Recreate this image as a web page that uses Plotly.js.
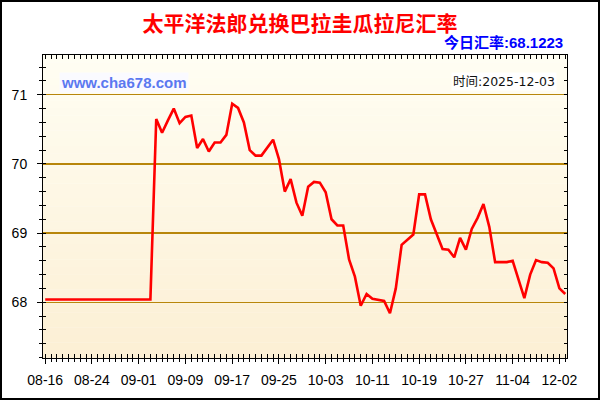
<!DOCTYPE html>
<html>
<head>
<meta charset="utf-8">
<script src="https://cdn.plot.ly/plotly-3.0.1.min.js"></script>
<style>
  html, body { margin: 0; padding: 0; background: #fff; }
  #wrap { position: relative; width: 600px; height: 400px; }
  #chart { width: 600px; height: 400px; }
  #frame { position: absolute; left: 0; top: 0; width: 600px; height: 400px; box-sizing: border-box; border: 2px solid #000; pointer-events: none; }
</style>
</head>
<body>
<div id="wrap"><div id="chart"></div><div id="frame"></div></div>
<script>
// ---- data ----
const rates = [
  68.04, 68.04, 68.04, 68.04, 68.04, 68.04, 68.04, 68.04, 68.04, 68.04,
  68.04, 68.04, 68.04, 68.04, 68.04, 68.04, 68.04, 68.04, 68.04, 70.65,
  70.45, 70.63, 70.80, 70.59, 70.68, 70.70, 70.23, 70.36, 70.18, 70.31,
  70.31, 70.42, 70.87, 70.81, 70.60, 70.20, 70.12, 70.12, 70.24, 70.35,
  70.07, 69.60, 69.78, 69.44, 69.25, 69.67, 69.74, 69.73, 69.59, 69.20,
  69.11, 69.11, 68.62, 68.37, 67.95, 68.12, 68.05, 68.04, 68.02, 67.84,
  68.20, 68.83, 68.91, 68.98, 69.56, 69.56, 69.20, 68.97, 68.77, 68.76,
  68.65, 68.93, 68.76, 69.06, 69.22, 69.42, 69.09, 68.58, 68.58, 68.58,
  68.60, 68.32, 68.06, 68.40, 68.61, 68.58, 68.57, 68.49, 68.20, 68.12
];
const tickLabels = ['08-16','08-24','09-01','09-09','09-17','09-25','10-03','10-11','10-19','10-27','11-04','12-02'];
const tickStep = 8;
const yTicks = [68, 69, 70, 71];
const titleText = '太平洋法郎兑换巴拉圭瓜拉尼汇率';
const todayText = '今日汇率:68.1223';
const timeText = '时间:2025-12-03';
const siteText = 'www.cha678.com';

// ---- derived ----
const idx = rates.map((_, i) => i);
const tickVals = tickLabels.map((_, i) => i * tickStep);
const xRange = [-0.38, 89.3];
const yRange = [67.194, 71.575];

// gradient background bands
const bands = 40;
const gradTop = [255, 254, 243], gradBot = [252, 239, 212];
const shapes = [];
for (let b = 0; b < bands; b++) {
  const t = (b + 0.5) / bands;
  const c = gradTop.map((v, k) => Math.round(v + (gradBot[k] - v) * t));
  shapes.push({
    type: 'rect', xref: 'x domain', yref: 'y domain', layer: 'below',
    x0: 0, x1: 1, y0: 1 - (b + 1) / bands, y1: 1 - b / bands + 0.001,
    fillcolor: 'rgb(' + c.join(',') + ')', line: { width: 0 }
  });
}

const tickFont = { family: 'Liberation Sans, Arial, sans-serif', size: 14, color: '#000' };

const traces = [
  {
    x: idx, y: rates, type: 'scatter', mode: 'lines',
    line: { color: '#ff0000', width: 2.6 },
    hoverinfo: 'skip', showlegend: false
  },
  {
    x: idx, y: rates, type: 'scatter', mode: 'lines', xaxis: 'x2', yaxis: 'y2',
    line: { color: 'rgba(0,0,0,0)', width: 0 }, opacity: 0,
    hoverinfo: 'skip', showlegend: false
  }
];

const layout = {
  width: 600, height: 400,
  margin: { l: 43, r: 33, t: 55, b: 42, pad: 0 },
  paper_bgcolor: '#ffffff',
  plot_bgcolor: 'rgba(0,0,0,0)',
  showlegend: false,
  title: {
    text: titleText, xref: 'container', yref: 'container', x: 0.5, y: 0.942,
    xanchor: 'center', yanchor: 'middle',
    font: { family: 'Noto Sans CJK SC, sans-serif', size: 21, color: '#ff0000', weight: 'bold' }
  },
  xaxis: {
    range: xRange, tickmode: 'array', tickvals: tickVals, ticktext: tickLabels,
    ticks: 'outside', ticklen: 5, tickcolor: '#000', tickwidth: 1,
    showline: true, linecolor: '#000', linewidth: 1, mirror: true,
    showgrid: false, zeroline: false, tickfont: tickFont, ticklabelstandoff: 4,
    minor: { tickmode: 'linear', tick0: 0, dtick: 1, ticks: 'outside', ticklen: 3, tickcolor: '#000', showgrid: false }
  },
  xaxis2: {
    overlaying: 'x', anchor: 'y', side: 'bottom', range: xRange,
    tickmode: 'linear', tick0: 0, dtick: 1, ticks: 'inside', ticklen: 4, tickcolor: '#000',
    showticklabels: false, showgrid: false, zeroline: false, showline: false, mirror: 'ticks'
  },
  yaxis: {
    range: yRange, tickmode: 'array', tickvals: yTicks,
    ticks: 'outside', ticklen: 5, tickcolor: '#000', tickwidth: 1,
    showline: true, linecolor: '#000', linewidth: 1, mirror: true,
    showgrid: true, gridcolor: '#b8860b', gridwidth: 1.3, zeroline: false,
    tickfont: tickFont, ticklabelstandoff: 7,
    minor: { tickmode: 'linear', tick0: 68, dtick: 0.2, ticks: 'outside', ticklen: 3, tickcolor: '#000', showgrid: false }
  },
  yaxis2: {
    overlaying: 'y', anchor: 'x', side: 'left', range: yRange,
    tickmode: 'linear', tick0: 68, dtick: 0.2, ticks: 'inside', ticklen: 3, tickcolor: '#000',
    showticklabels: false, showgrid: false, zeroline: false, showline: false, mirror: 'ticks'
  },
  shapes: shapes,
  annotations: [
    {
      text: todayText, xref: 'paper', yref: 'paper', x: 0.9962, y: 1.04,
      xanchor: 'right', yanchor: 'middle', showarrow: false,
      font: { family: 'Liberation Sans, Noto Sans CJK SC, sans-serif', size: 15, color: '#0000ff', weight: 'bold' }
    },
    {
      text: siteText, xref: 'paper', yref: 'paper', x: 0.1546, y: 0.9076,
      xanchor: 'center', yanchor: 'middle', showarrow: false,
      bgcolor: 'rgba(250,250,255,0.95)', borderpad: 1,
      font: { family: 'Liberation Sans, Arial, sans-serif', size: 15, color: '#5a78f0', weight: 'bold' }
    },
    {
      text: timeText, xref: 'paper', yref: 'paper', x: 0.981, y: 0.914,
      xanchor: 'right', yanchor: 'middle', showarrow: false,
      bgcolor: '#ffffff', borderpad: 1,
      font: { family: 'DejaVu Sans, Noto Sans CJK SC, sans-serif', size: 12.5, color: '#111' }
    }
  ]
};

Plotly.newPlot('chart', traces, layout, { staticPlot: true, displayModeBar: false });
</script>
</body>
</html>
